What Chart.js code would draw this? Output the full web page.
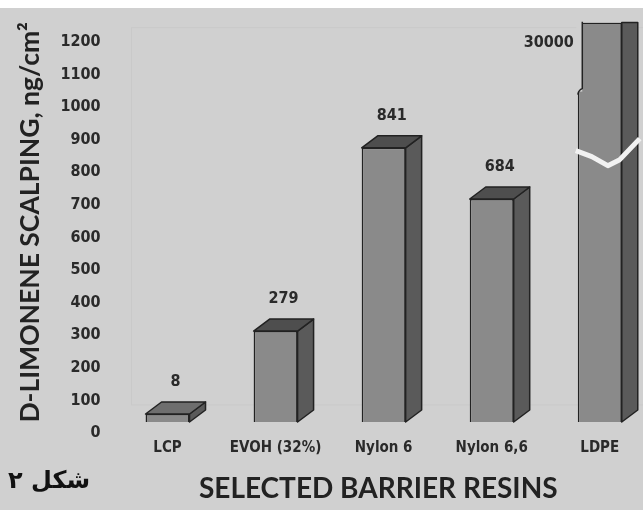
<!DOCTYPE html>
<html>
<head>
<meta charset="utf-8">
<script src="https://cdn.jsdelivr.net/npm/chart.js@4"></script>
<style>
  html, body { margin: 0; padding: 0; background: #d0d0d0; overflow: hidden; }
  #wrap { position: relative; width: 643px; height: 510px; }
  #caption {
    position: absolute; left: 8px; top: 466px;
    font: bold 24px 'DejaVu Sans', sans-serif; color: #111; direction: rtl;
  }
</style>
</head>
<body>
<div id="wrap">
  <canvas id="grafico" width="643" height="510"></canvas>
  <div id="caption">شکل ۲</div>
</div>
<script>
const categories = ["LCP", "EVOH (32%)", "Nylon 6", "Nylon 6,6", "LDPE"];
const scalping = [8, 279, 841, 684, 30000];
const yTickValues = [0, 100, 200, 300, 400, 500, 600, 700, 800, 900, 1000, 1100, 1200];

const yMax = 1225;
const sfondo = "#d0d0d0";
const condensed = "'DejaVu Sans Condensed', 'Liberation Sans Narrow', Roboto, sans-serif";
const dx = 16, dy = 12;

// faccia superiore e laterale delle barre, etichette, interruzione LDPE
const tridimensionale = {
  id: "tridimensionale",
  beforeDraw(chart) {
    const c = chart.ctx;
    const a = chart.chartArea;
    c.save();
    c.fillStyle = sfondo;
    c.fillRect(0, 0, chart.width, chart.height);
    c.fillStyle = "#ffffff";
    c.fillRect(0, 0, chart.width, 8);
    // parete di fondo appena visibile
    c.strokeStyle = "#c9c9c9";
    c.lineWidth = 1;
    c.strokeRect(a.left + 18, a.top + 5, a.right - a.left, a.bottom - a.top - 22);
    c.restore();
  },
  afterDatasetsDraw(chart) {
    const c = chart.ctx;
    const meta = chart.getDatasetMeta(0);
    meta.data.forEach((bar, i) => {
      const p = bar.getProps(["x", "y", "base", "width"], true);
      const x0 = p.x - p.width / 2, x1 = p.x + p.width / 2;
      const cut = scalping[i] > yMax;
      c.save();
      c.lineWidth = 1.5;
      c.strokeStyle = "#222";
      c.lineJoin = "round";
      // lato
      c.beginPath();
      if (cut) {
        c.moveTo(x1, p.y); c.lineTo(x1 + dx, p.y);
      } else {
        c.moveTo(x1, p.y); c.lineTo(x1 + dx, p.y - dy);
      }
      c.lineTo(x1 + dx, p.base - dy);
      c.lineTo(x1, p.base);
      c.closePath();
      c.fillStyle = "#5a5a5a";
      c.fill(); c.stroke();
      // sopra
      if (!cut) {
        c.beginPath();
        c.moveTo(x0, p.y); c.lineTo(x1, p.y);
        c.lineTo(x1 + dx, p.y - dy); c.lineTo(x0 + dx, p.y - dy);
        c.closePath();
        c.fillStyle = i === 0 ? "#6e6e6e" : "#4e4e4e";
        c.fill(); c.stroke();
      }
      // etichetta
      c.fillStyle = "#2a2a2a";
      c.font = "bold 16px " + condensed;
      c.textBaseline = "middle";
      if (cut) {
        c.textAlign = "right";
        c.fillText(String(scalping[i]), x0 - 4, p.y + 20);
        // tacca sul bordo sinistro
        const yn = p.y + 70;
        c.fillStyle = sfondo;
        c.fillRect(x0 - 1.5, p.y - 1, 6, yn - p.y);
        c.beginPath();
        c.moveTo(x0 + 4.5, p.y - 0.75);
        c.lineTo(x0 + 4.5, yn - 4);
        c.quadraticCurveTo(x0 + 1, yn - 3, x0, yn + 2);
        c.strokeStyle = "#222";
        c.lineWidth = 1.5;
        c.stroke();
        // interruzione
        const yb = chart.scales.y.getPixelForValue(820);
        c.beginPath();
        c.moveTo(x0 - 2, yb - 4);
        c.lineTo(x0 + 14, yb + 2);
        c.lineTo(x0 + 30, yb + 11);
        c.lineTo(x1 - 2, yb + 5);
        c.lineTo(x1 + dx + 2, yb - 16);
        c.strokeStyle = "#f2f2f2";
        c.lineWidth = 5;
        c.stroke();
      } else {
        c.textAlign = "center";
        c.fillText(String(scalping[i]), p.x + dx / 2, p.y - dy - 20);
      }
      c.restore();
    });
  }
};

new Chart(document.getElementById("grafico"), {
  type: "bar",
  data: {
    datasets: [{
      data: scalping.map((v, i) => ({ x: i, y: Math.min(v, yMax) })),
      backgroundColor: "#8a8a8a",
      borderColor: "#222",
      borderWidth: 1.5,
      barPercentage: 0.407,
      categoryPercentage: 1,
      minBarLength: 8
    }]
  },
  options: {
    responsive: false,
    animation: false,
    layout: { padding: { top: 22, left: 0, right: 0, bottom: 0 } },
    plugins: { legend: { display: false }, tooltip: { enabled: false } },
    scales: {
      x: {
        type: "linear",
        offset: false,
        min: -0.5,
        max: 4.4,
        grid: { display: false, drawTicks: false },
        border: { display: false },
        afterBuildTicks: s => { s.ticks = categories.map((_, i) => ({ value: i })); },
        afterFit: s => { s.height = 88; },
        ticks: {
          padding: 17,
          color: "#2a2a2a",
          font: { family: condensed, size: 15, weight: "bold" },
          callback: v => categories[v] ?? ""
        },
        title: {
          display: true,
          text: "SELECTED BARRIER RESINS",
          color: "#222",
          font: { family: "Lato", size: 28, weight: "bold" },
          padding: { top: 8 }
        }
      },
      y: {
        min: 0,
        max: yMax,
        grid: { display: false, drawTicks: false },
        border: { display: false },
        afterBuildTicks: s => { s.ticks = yTickValues.map(v => ({ value: v })); },
        afterFit: s => { s.width = 113.5; },
        ticks: {
          padding: 13,
          labelOffset: 11,
          color: "#2a2a2a",
          font: { family: condensed, size: 16, weight: "bold" },
          callback: v => String(v)
        },
        title: {
          display: true,
          text: "D-LIMONENE SCALPING, ng/cm²",
          color: "#222",
          font: { family: "Lato", size: 26.5, weight: "bold" },
          padding: { top: 15 }
        }
      }
    }
  },
  plugins: [tridimensionale]
});
</script>
</body>
</html>
